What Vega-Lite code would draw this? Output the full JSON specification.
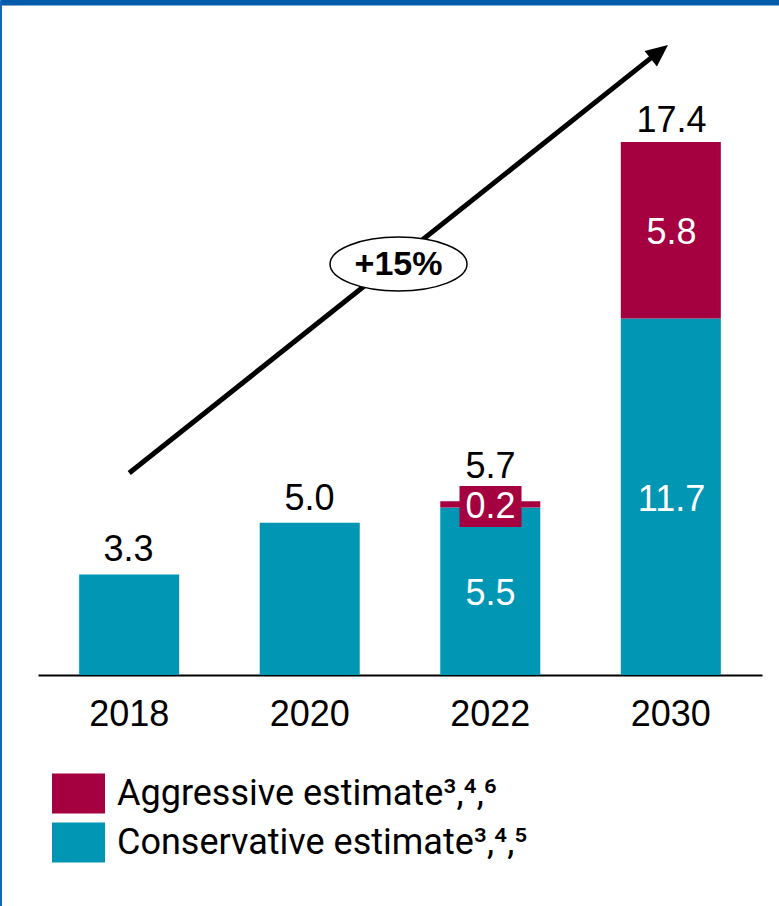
{
  "$schema": "https://vega.github.io/schema/vega-lite/v6.json",
  "width": 779,
  "height": 906,
  "padding": 0,
  "autosize": {"type": "none"},
  "background": "white",
  "config": {"font": "Liberation Sans", "view": {"stroke": null}},
  "datasets": {
    "segments": [
      {"year": "2018", "type": "Conservative", "value": 3.3},
      {"year": "2020", "type": "Conservative", "value": 5.0},
      {"year": "2022", "type": "Conservative", "value": 5.5},
      {"year": "2022", "type": "Aggressive", "value": 0.2},
      {"year": "2030", "type": "Conservative", "value": 11.7},
      {"year": "2030", "type": "Aggressive", "value": 5.8}
    ],
    "totals": [
      {"year": "2018", "total": 3.3},
      {"year": "2020", "total": 5.0},
      {"year": "2022", "total": 5.7},
      {"year": "2030", "total": 17.4}
    ],
    "arrow": [{"ax": 0, "ay": 6.63, "ax2": 2.919, "ay2": 20.39}],
    "arrowhead": [{"ax": 2.985, "ay": 20.68}],
    "growth": [{"ax": 1.492, "ay": 13.49, "label": "+15%"}]
  },
  "resolve": {"scale": {"x": "independent"}, "axis": {"x": "independent", "y": "independent"}},
  "layer": [
    {
      "data": {"name": "segments"},
      "transform": [
        {"stack": "value", "groupby": ["year"], "sort": [{"field": "type", "order": "descending"}], "as": ["v0", "v1"]}
      ],
      "mark": {"type": "bar"},
      "encoding": {
        "x": {
          "field": "year", "type": "nominal",
          "scale": {"domain": ["2018", "2020", "2022", "2030"], "range": [38, 762], "paddingInner": 0.446, "paddingOuter": 0.228},
          "axis": {
            "orient": "bottom", "offset": -231, "title": null, "domain": true, "domainColor": "black", "domainWidth": 2,
            "ticks": false, "tickSize": 0, "grid": false, "labelAngle": 0, "labelFontSize": 36, "labelColor": "black",
            "labelPadding": 22, "labelFont": "Liberation Sans"
          }
        },
        "y": {
          "field": "v0", "type": "quantitative",
          "scale": {"domain": [-7.584, 22.16], "nice": false, "zero": false},
          "axis": {"orient": "left", "offset": 0, "domain": true, "domainColor": "#1565C0", "domainWidth": 3, "ticks": false, "labels": false, "grid": false, "title": null}
        },
        "y2": {"field": "v1"},
        "color": {
          "field": "type", "type": "nominal",
          "scale": {"domain": ["Aggressive", "Conservative"], "range": ["#A50040", "#0096B4"]},
          "legend": {
            "orient": "none", "legendX": 52, "legendY": 767, "title": null, "direction": "vertical",
            "symbolType": "M-1,-0.755H1V0.755H-1Z", "symbolSize": 2809, "symbolStrokeWidth": 0, "symbolOpacity": 1,
            "labelFontSize": 36, "labelColor": "black", "labelOffset": 12, "labelLimit": 0, "rowPadding": 2, "padding": 0,
            "labelFont": "Roboto",
            "labelExpr": "datum.label == 'Aggressive' ? 'Aggressive estimate³,⁴,⁶' : 'Conservative estimate³,⁴,⁵'"
          }
        }
      }
    },
    {
      "data": {"name": "segments"},
      "transform": [
        {"stack": "value", "groupby": ["year"], "sort": [{"field": "type", "order": "descending"}], "as": ["v0", "v1"]},
        {"calculate": "(datum.v0 + datum.v1) / 2", "as": "mid"},
        {"filter": "datum.year == '2022' && datum.type == 'Aggressive'"}
      ],
      "mark": {"type": "point", "shape": "M-1,-0.66H1V0.66H-1Z", "size": 3844, "filled": true, "color": "#A50040", "opacity": 1, "yOffset": 2},
      "encoding": {
        "x": {"field": "year", "type": "nominal", "axis": null,
              "scale": {"domain": ["2018", "2020", "2022", "2030"], "range": [38, 762], "paddingInner": 0.446, "paddingOuter": 0.228}},
        "y": {"field": "mid", "type": "quantitative", "axis": null, "scale": {"domain": [-7.584, 22.16], "nice": false, "zero": false}}
      }
    },
    {
      "data": {"name": "segments"},
      "transform": [
        {"stack": "value", "groupby": ["year"], "sort": [{"field": "type", "order": "descending"}], "as": ["v0", "v1"]},
        {"calculate": "(datum.v0 + datum.v1) / 2", "as": "mid"},
        {"filter": {"field": "year", "oneOf": ["2022", "2030"]}}
      ],
      "mark": {"type": "text", "fontSize": 36, "color": "white", "baseline": "middle", "align": "center", "dy": 3},
      "encoding": {
        "x": {"field": "year", "type": "nominal", "axis": null,
              "scale": {"domain": ["2018", "2020", "2022", "2030"], "range": [38, 762], "paddingInner": 0.446, "paddingOuter": 0.228}},
        "y": {"field": "mid", "type": "quantitative", "axis": null, "scale": {"domain": [-7.584, 22.16], "nice": false, "zero": false}},
        "text": {"field": "value", "type": "quantitative", "format": ".1f"}
      }
    },
    {
      "data": {"name": "totals"},
      "transform": [{"filter": "datum.year != '2022'"}],
      "mark": {"type": "text", "fontSize": 36, "color": "black", "baseline": "alphabetic", "align": "center", "dy": -13},
      "encoding": {
        "x": {"field": "year", "type": "nominal", "axis": null,
              "scale": {"domain": ["2018", "2020", "2022", "2030"], "range": [38, 762], "paddingInner": 0.446, "paddingOuter": 0.228}},
        "y": {"field": "total", "type": "quantitative", "axis": null, "scale": {"domain": [-7.584, 22.16], "nice": false, "zero": false}},
        "text": {"field": "total", "type": "quantitative", "format": ".1f"}
      }
    },
    {
      "data": {"name": "totals"},
      "transform": [{"filter": "datum.year == '2022'"}],
      "mark": {"type": "text", "fontSize": 36, "color": "black", "baseline": "alphabetic", "align": "center", "dy": -23},
      "encoding": {
        "x": {"field": "year", "type": "nominal", "axis": null,
              "scale": {"domain": ["2018", "2020", "2022", "2030"], "range": [38, 762], "paddingInner": 0.446, "paddingOuter": 0.228}},
        "y": {"field": "total", "type": "quantitative", "axis": null, "scale": {"domain": [-7.584, 22.16], "nice": false, "zero": false}},
        "text": {"field": "total", "type": "quantitative", "format": ".1f"}
      }
    },
    {
      "data": {"name": "arrow"},
      "mark": {"type": "rule", "strokeWidth": 5, "color": "black"},
      "encoding": {
        "x": {
          "field": "ax", "type": "quantitative",
          "scale": {"domain": [-0.716, 3.6], "nice": false, "zero": false},
          "axis": {"orient": "top", "domain": true, "domainColor": "#005BAA", "domainWidth": 10, "ticks": false, "labels": false, "grid": false, "title": null}
        },
        "x2": {"field": "ax2"},
        "y": {"field": "ay", "type": "quantitative", "axis": null, "scale": {"domain": [-7.584, 22.16], "nice": false, "zero": false}},
        "y2": {"field": "ay2"}
      }
    },
    {
      "data": {"name": "arrowhead"},
      "mark": {"type": "point", "shape": "M0,0L0.9,2L-0.9,2Z", "size": 484, "angle": 51.6, "filled": true, "color": "black", "opacity": 1},
      "encoding": {
        "x": {"field": "ax", "type": "quantitative", "axis": null, "scale": {"domain": [-0.716, 3.6], "nice": false, "zero": false}},
        "y": {"field": "ay", "type": "quantitative", "axis": null, "scale": {"domain": [-7.584, 22.16], "nice": false, "zero": false}}
      }
    },
    {
      "data": {"name": "growth"},
      "mark": {
        "type": "point",
        "shape": "M-1,0C-1,-0.2176 -0.5523,-0.394 0,-0.394C0.5523,-0.394 1,-0.2176 1,0C1,0.2176 0.5523,0.394 0,0.394C-0.5523,0.394 -1,0.2176 -1,0Z",
        "size": 18769, "filled": false, "fill": "white", "fillOpacity": 1, "stroke": "black", "strokeWidth": 1.5, "opacity": 1
      },
      "encoding": {
        "x": {"field": "ax", "type": "quantitative", "axis": null, "scale": {"domain": [-0.716, 3.6], "nice": false, "zero": false}},
        "y": {"field": "ay", "type": "quantitative", "axis": null, "scale": {"domain": [-7.584, 22.16], "nice": false, "zero": false}}
      }
    },
    {
      "data": {"name": "growth"},
      "mark": {"type": "text", "fontSize": 34, "fontWeight": "bold", "color": "black", "baseline": "middle", "align": "center", "dy": 1},
      "encoding": {
        "x": {"field": "ax", "type": "quantitative", "axis": null, "scale": {"domain": [-0.716, 3.6], "nice": false, "zero": false}},
        "y": {"field": "ay", "type": "quantitative", "axis": null, "scale": {"domain": [-7.584, 22.16], "nice": false, "zero": false}},
        "text": {"field": "label", "type": "nominal"}
      }
    }
  ]
}
